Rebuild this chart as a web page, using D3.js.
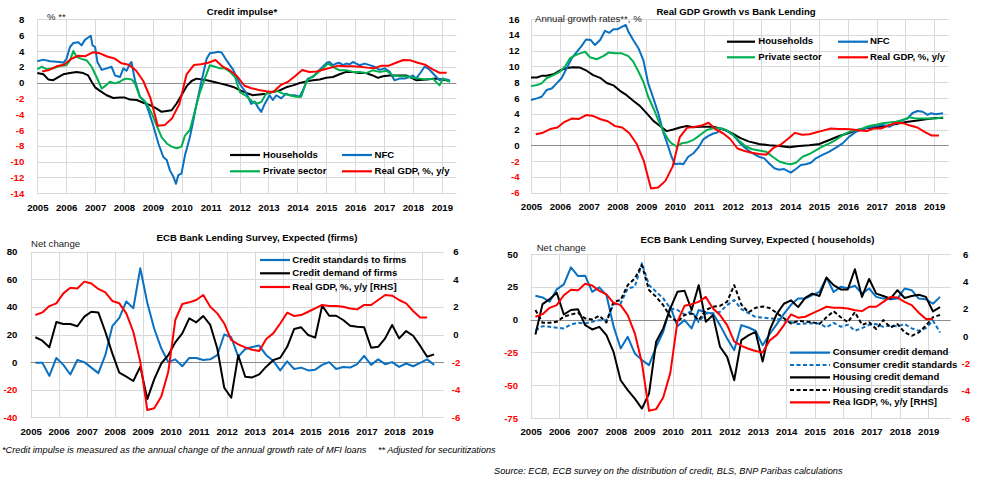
<!DOCTYPE html>
<html><head><meta charset="utf-8">
<script src="https://cdn.jsdelivr.net/npm/d3@7"></script>
<style>
body{margin:0;background:#fff}
svg{display:block}
text{font-family:"Liberation Sans",Arial,sans-serif}
</style></head>
<body><svg id="c" width="1002" height="493"></svg>
<script>
// ---------------- DATA ----------------
const years = [2005,2006,2007,2008,2009,2010,2011,2012,2013,2014,2015,2016,2017,2018,2019];

// Real GDP, % y/y (quarterly, 2005Q1..2019Q1)
const gdpQ = [1.41,1.6,2.06,2.26, 2.98,3.39,3.34,3.83, 3.7,3.3,3.05,2.43, 2.26,1.53,0.2,-1.98,
  -5.47,-5.35,-4.5,-2.7, 1.05,2.21,2.33,2.5, 2.86,2.01,1.53,0.8, -0.4,-0.72,-0.93,-1.1,
  -1.2,-0.33,0.08,0.8, 1.58,1.34,1.41,1.65, 1.89,2.14,2.06,2.06, 2.01,1.89,1.82,2.14,
  2.14,2.5,2.86,2.81, 2.5,2.26,1.7,1.24, 1.24];

// Credit impulse (%), [date, value]
const impulseHH = [[2005.00,1.2],[2005.21,1.05],[2005.38,0.4],[2005.55,0.3],[2005.73,0.7],[2005.90,1.05],[2006.13,1.2],[2006.36,1.35],[2006.59,1.2],[2006.76,0.9],[2006.88,0.1],[2007.00,-0.6],[2007.17,-1.05],[2007.40,-1.6],[2007.63,-1.95],[2007.86,-1.9],[2008.03,-1.9],[2008.21,-2.15],[2008.44,-2.2],[2008.67,-2.55],[2008.90,-2.85],[2009.13,-3.3],[2009.30,-3.7],[2009.48,-3.6],[2009.65,-3.5],[2009.82,-2.65],[2009.99,-1.6],[2010.17,-0.45],[2010.34,0.2],[2010.51,0.5],[2010.69,0.4],[2010.86,0.3],[2011.09,0.1],[2011.32,-0.1],[2011.55,-0.3],[2011.78,-0.55],[2012.01,-0.95],[2012.23,-1.3],[2012.46,-1.6],[2012.69,-1.5],[2012.92,-1.4],[2013.15,-1.2],[2013.38,-1.0],[2013.61,-0.6],[2013.85,-0.35],[2014.08,-0.05],[2014.31,0.15],[2014.54,0.3],[2014.77,0.4],[2015.00,0.6],[2015.23,0.7],[2015.46,1.05],[2015.69,1.35],[2015.92,1.35],[2016.15,1.2],[2016.38,1.2],[2016.61,0.9],[2016.79,0.6],[2016.96,0.8],[2017.19,0.9],[2017.42,0.9],[2017.77,0.9],[2018.11,0.3],[2018.46,0.4],[2018.81,0.5],[2019.15,0.3],[2019.27,0.2]];
const impulseNFC = [[2005.00,2.7],[2005.21,2.9],[2005.44,2.7],[2005.78,2.6],[2005.90,2.5],[2006.01,3.0],[2006.13,4.5],[2006.25,5.0],[2006.42,5.1],[2006.53,4.7],[2006.65,5.4],[2006.76,5.7],[2006.85,5.9],[2006.91,4.7],[2007.00,4.5],[2007.08,2.6],[2007.23,1.6],[2007.40,1.8],[2007.57,2.0],[2007.69,0.9],[2007.86,0.7],[2007.98,1.8],[2008.09,1.5],[2008.21,2.4],[2008.26,2.6],[2008.38,0.3],[2008.55,-1.8],[2008.73,-2.4],[2008.84,-3.5],[2009.01,-5.4],[2009.19,-7.7],[2009.36,-9.4],[2009.48,-9.8],[2009.59,-11.1],[2009.71,-11.9],[2009.80,-12.8],[2009.88,-11.7],[2009.99,-11.5],[2010.11,-9.2],[2010.28,-6.9],[2010.40,-4.8],[2010.51,-2.7],[2010.69,0.3],[2010.86,3.0],[2010.97,3.7],[2011.15,3.8],[2011.26,3.9],[2011.38,3.8],[2011.55,2.8],[2011.78,1.6],[2011.95,0.3],[2012.05,-0.4],[2012.23,-1.3],[2012.40,-2.7],[2012.52,-2.4],[2012.63,-3.1],[2012.75,-3.7],[2012.87,-2.7],[2013.04,-1.6],[2013.15,-2.2],[2013.27,-1.6],[2013.44,-2.0],[2013.61,-1.4],[2013.73,-1.6],[2013.90,-1.6],[2014.08,-1.8],[2014.19,-1.0],[2014.36,0.5],[2014.54,0.7],[2014.71,1.4],[2014.88,2.0],[2015.02,2.5],[2015.11,2.6],[2015.23,2.2],[2015.34,2.4],[2015.46,2.5],[2015.58,2.2],[2015.69,2.4],[2015.81,2.3],[2015.92,2.6],[2016.04,2.4],[2016.15,2.2],[2016.33,2.4],[2016.50,2.2],[2016.67,2.0],[2016.84,1.6],[2017.02,1.8],[2017.19,1.4],[2017.36,0.3],[2017.54,0.5],[2017.71,0.5],[2017.88,0.7],[2018.00,0.9],[2018.11,0.5],[2018.29,1.4],[2018.40,2.0],[2018.52,1.8],[2018.63,1.4],[2018.81,0.7],[2018.92,0.3],[2019.04,0.5],[2019.15,0.4],[2019.27,0.3]];
const impulsePriv = [[2005.00,1.7],[2005.15,2.0],[2005.32,1.7],[2005.55,1.8],[2005.78,2.1],[2006.01,2.2],[2006.13,2.8],[2006.25,4.0],[2006.36,3.25],[2006.53,3.0],[2006.71,2.8],[2006.88,2.0],[2007.05,0.7],[2007.23,-0.75],[2007.34,-0.45],[2007.51,0.1],[2007.69,-0.1],[2007.86,0.1],[2007.98,0.4],[2008.09,0.5],[2008.26,0.4],[2008.38,-0.1],[2008.55,-1.8],[2008.78,-2.65],[2008.96,-3.9],[2009.13,-5.4],[2009.30,-6.9],[2009.48,-7.7],[2009.65,-8.1],[2009.82,-8.3],[2009.99,-8.1],[2010.11,-6.7],[2010.28,-6.0],[2010.46,-3.5],[2010.63,-1.2],[2010.80,0.5],[2010.97,2.2],[2011.15,2.0],[2011.32,1.8],[2011.49,1.8],[2011.67,1.35],[2011.84,0.7],[2012.01,-1.2],[2012.23,-1.7],[2012.46,-2.45],[2012.63,-2.65],[2012.75,-2.45],[2012.92,-1.4],[2013.10,-1.2],[2013.27,-1.0],[2013.50,-1.4],[2013.73,-1.6],[2013.96,-1.8],[2014.13,-1.8],[2014.31,0.1],[2014.48,0.7],[2014.65,1.05],[2014.88,1.8],[2015.06,2.4],[2015.23,2.0],[2015.46,1.55],[2015.69,1.55],[2015.92,1.35],[2016.15,1.35],[2016.38,1.2],[2016.61,1.55],[2016.84,1.35],[2017.08,1.5],[2017.31,0.9],[2017.54,0.8],[2017.77,0.8],[2018.00,0.6],[2018.23,0.5],[2018.46,0.4],[2018.69,0.5],[2018.92,-0.35],[2019.04,0.5],[2019.15,0.3],[2019.29,0.1]];

// Bank lending growth (%), [date, value]
const lendingHH = [[2005.00,8.6],[2005.20,8.6],[2005.37,8.8],[2005.54,8.8],[2005.78,9.0],[2006.01,9.5],[2006.24,9.8],[2006.47,9.9],[2006.70,9.85],[2006.93,9.45],[2007.16,8.9],[2007.40,8.55],[2007.63,7.9],[2007.86,7.6],[2008.09,6.9],[2008.32,6.35],[2008.55,5.65],[2008.78,5.0],[2009.02,4.05],[2009.25,3.1],[2009.48,2.45],[2009.71,1.8],[2009.94,2.0],[2010.17,2.25],[2010.41,2.45],[2010.64,2.3],[2010.87,2.35],[2011.10,2.35],[2011.33,2.35],[2011.56,2.15],[2011.79,1.85],[2012.02,1.45],[2012.26,0.95],[2012.55,0.5],[2012.92,0.17],[2013.27,0],[2013.62,-0.08],[2013.97,-0.25],[2014.31,-0.08],[2014.66,0],[2015.01,0.17],[2015.36,0.68],[2015.70,1.18],[2015.93,1.44],[2016.28,1.86],[2016.63,2.15],[2016.98,2.28],[2017.32,2.45],[2017.67,2.7],[2018.02,2.95],[2018.36,3.1],[2018.71,3.3],[2019.06,3.45],[2019.31,3.45]];
const lendingNFC = [[2005.00,5.75],[2005.20,5.95],[2005.37,6.15],[2005.54,7.0],[2005.72,7.2],[2005.89,7.85],[2006.06,8.5],[2006.24,9.75],[2006.41,11.0],[2006.59,11.85],[2006.76,12.6],[2006.91,13.4],[2007.07,13.35],[2007.22,12.7],[2007.40,13.35],[2007.57,14.5],[2007.72,14.25],[2007.86,14.7],[2008.00,14.7],[2008.15,15.0],[2008.29,15.25],[2008.38,14.4],[2008.55,13.35],[2008.73,12.3],[2008.90,10.8],[2009.07,7.85],[2009.25,5.95],[2009.42,4.05],[2009.59,1.7],[2009.77,-0.2],[2009.88,-1.45],[2010.00,-2.4],[2010.17,-2.3],[2010.29,-2.4],[2010.46,-1.45],[2010.64,-1.0],[2010.81,-0.3],[2010.98,0.75],[2011.16,1.2],[2011.33,1.5],[2011.45,1.6],[2011.62,2.15],[2011.79,1.85],[2012.02,1.3],[2012.25,0.3],[2012.46,-0.4],[2012.69,-1.0],[2012.92,-1.45],[2013.10,-1.65],[2013.27,-2.3],[2013.45,-2.9],[2013.62,-3.1],[2013.79,-3.0],[2014.02,-3.45],[2014.20,-3.0],[2014.37,-2.5],[2014.54,-2.4],[2014.72,-2.2],[2014.89,-1.65],[2015.12,-1.2],[2015.36,-0.8],[2015.59,-0.3],[2015.82,0.25],[2016.05,1.1],[2016.28,1.7],[2016.51,2.05],[2016.74,2.3],[2016.98,2.45],[2017.21,2.6],[2017.44,2.35],[2017.67,2.8],[2017.90,3.2],[2018.07,3.4],[2018.25,4.1],[2018.42,4.35],[2018.60,4.25],[2018.77,3.85],[2018.88,4.05],[2019.06,3.95],[2019.31,4.05]];
const lendingPriv = [[2005.00,7.5],[2005.20,7.65],[2005.37,7.85],[2005.54,8.5],[2005.78,8.9],[2006.01,9.35],[2006.18,9.95],[2006.35,11.0],[2006.53,11.4],[2006.70,11.65],[2006.88,11.85],[2007.05,11.15],[2007.28,10.9],[2007.51,11.3],[2007.69,11.75],[2007.92,11.65],[2008.15,11.65],[2008.38,11.3],[2008.55,10.6],[2008.73,9.35],[2008.90,8.05],[2009.07,6.15],[2009.25,4.7],[2009.42,3.2],[2009.59,1.8],[2009.77,0.7],[2009.88,0.25],[2010.06,-0.15],[2010.23,0.25],[2010.41,0.35],[2010.64,0.7],[2010.87,1.3],[2011.10,1.95],[2011.33,2.15],[2011.56,2.15],[2011.79,1.95],[2012.02,1.3],[2012.25,0.5],[2012.46,-0.15],[2012.69,-0.5],[2012.92,-0.65],[2013.16,-0.8],[2013.39,-1.45],[2013.62,-2.05],[2013.85,-2.3],[2014.02,-2.4],[2014.20,-2.2],[2014.43,-1.45],[2014.66,-1.1],[2014.89,-0.65],[2015.12,-0.15],[2015.36,0.25],[2015.59,0.7],[2015.82,1.3],[2016.05,1.7],[2016.28,1.95],[2016.51,2.15],[2016.74,2.45],[2016.98,2.6],[2017.21,2.8],[2017.44,2.9],[2017.67,3.0],[2017.90,3.2],[2018.13,3.55],[2018.36,3.4],[2018.60,3.4],[2018.83,3.4],[2019.06,3.4],[2019.31,3.55]];

// ECB BLS, expected (net change, quarterly 2005Q1..2019Q2)
const firmStandards = [-0.5,-0.5,-10,3, -2,-9,1.5,0, -4,-8,5,26, 32,44,39,68, 43,24,10,0, 2,-3,3,3,
  1.5,2,5,20, 18,4,9.5,11, 12,5,1,-6, 0.5,-5,-4,-6, -5.5,-2,0,-5, -3.5,-4,-1.5,4.5,
  -2,2,-1.5,0, -3.5,-1,-3,-0.5, 2,-2];
const firmDemand = [18,15.5,10.7,29, 27.6,27.6,26,33, 36.5,36,22,6.3, -7.7,-10.6,-13.7,-3.3,
  -26.8,-12.3,-1,5, 14.3,20.8,31.7,28.8, 33.4,26.9,10,-18.6, -25.8,5,-10.6,-11.1,
  -8.9,-3.3,1.4,3.1, 11.1,24,25.2,19.6, 17.7,40.9,33.6,33.6, 30.5,26.4,25.6,25.2,
  10.4,11.1,17.2,26.9, 17.2,22.5,19.1,11.9, 3.9,5.6];
const consDemand = [18.2,16.9,13.6,23, 26.8,39.8,33.2,33.5, 21.2,24.6,18.7,-5, -22,-13.1,-25.8,-30.9,
  -34.7,-20.7,-9.3,9.8, -5,-0.4,-6.7,7.3, 5.5,4.7,-4.2,-14.4, -23.3,-4.2,-6,-8.5,
  -19.6,-11,-3.4,4.4, 11.3,16,16,18.6, 21.1,32,21,25, 24,25.8,19.8,23.7,
  17.3,16,15.5,16, 23.7,22.4,16,15.5, 12.1,17.3];
const consStandards = [-8.3,-5,-5.5,-6.2, -6.7,-3.7,-2.4,-2.9, -1.7,-0.4,-0.4,11.6, 12.3,23.8,25.1,42.9,
  26.3,21.2,16.2,8.5, 7.3,3.9,6.5,-1.7, 4.7,4.7,5.9,11, 14.9,8,5,2,
  1.5,1,0.5,-0.8, -2,-3.4,-3,-2.8, -3,-6,-2.5,-5.4, -4,-8.5,-6.5,-4,
  -3.4,-5.5,-4.5,-5.2, -3.4,-6.7,-8.5,-6.5, -0.8,-9.8];
const housDemand = [-11.3,11.8,15.6,20.5, 3.9,7.3,7.8,-4.2, -7.5,-5.5,-11.8,-24.6, -46.2,-53.8,-60.2,-67.8,
  -56.4,-16.9,-6.7,8.5, 21.2,22,7.3,26.3, -1.7,3.4,-20.7,-28.4, -46.2,-15.6,-12,-9.3,
  -32,-8,4.4,12.1, 14.7,9.5,16.5,19.8, 18,32,26.3,23, 23,38.4,17.3,31,
  19.8,18,16,22.4, 16.5,18,19,17.3, 6.2,9.5];
const housStandards = [7.3,-2.4,-2.4,-1.7, 2.2,3.9,5.1,0.9, 0.1,2.9,-2.2,13.6, 14.9,26.3,31.4,41.6,
  22.5,17.4,11,2.2, -1.7,3.4,4.7,-0.4, 7.3,9.8,10.5,13.6, 26.3,11.5,5.5,9,
  10,8.8,5,1, -3,-1,-1.5,-2, -3.4,1.8,6.4,1.8, -2,5.7,-4,-2,
  -7.2,-0.3,-6,-3.4, -9.8,-12.4,-9.8,-4.6, 1.8,3.6];

// tick values
const ticksImpulse = [8,6,4,2,0,-2,-4,-6,-8,-10,-12,-14];
const ticksLending = [16,14,12,10,8,6,4,2,0,-2,-4,-6];
const ticksFirms = [80,60,40,20,0,-20,-40];
const ticksHouse = [50,25,0,-25,-50,-75];
const ticksRHS = [6,4,2,0,-2,-4,-6];

// ---------------- DRAWING ----------------
const BLUE = "#0a70c2", RED = "#ff0000", GREEN = "#00b050", BLACK = "#000000";
const svg = d3.select("#c");
const qDate = i => 2005 + Math.floor(i / 4) + ((i % 4) * 3 + 2) / 12;
const toPairs = arr => arr.map((v, i) => [qDate(i), v]);

function panel(o) {
  const g = svg.append("g");
  const x = d3.scaleLinear().domain(o.xd).range([o.l, o.r]);
  const y = d3.scaleLinear().domain(o.yd).range([o.b, o.t]);
  // grid
  g.append("g").selectAll("line").data(o.yt).join("line")
    .attr("x1", o.l).attr("x2", o.r)
    .attr("y1", d => Math.round(y(d)) + 0.5).attr("y2", d => Math.round(y(d)) + 0.5)
    .attr("stroke", "#d9d9d9").attr("stroke-width", 1);
  g.append("g").selectAll("line").data(years).join("line")
    .attr("x1", d => Math.round(x(d)) + 0.5).attr("x2", d => Math.round(x(d)) + 0.5)
    .attr("y1", o.t).attr("y2", o.b)
    .attr("stroke", "#d9d9d9").attr("stroke-width", 1);
  g.append("line").attr("x1", o.l).attr("x2", o.r)
    .attr("y1", Math.round(y(0)) + 0.5).attr("y2", Math.round(y(0)) + 0.5)
    .attr("stroke", "#8c8c8c").attr("stroke-width", 1);
  // left axis
  const ya = g.append("g").attr("transform", `translate(${o.l},0)`)
    .call(d3.axisLeft(y).tickValues(o.yt).tickSize(0).tickPadding(o.padY).tickFormat(d => String(d)));
  ya.select(".domain").remove();
  ya.selectAll("text").attr("font-family", "Liberation Sans, Arial, sans-serif")
    .attr("font-size", 9.6).attr("font-weight", "bold")
    .attr("fill", d => d < 0 ? RED : BLACK);
  // bottom axis
  const xa = g.append("g").attr("transform", `translate(0,${o.b})`)
    .call(d3.axisBottom(x).tickValues(years).tickSize(0).tickPadding(o.padX).tickFormat(d => String(d)));
  xa.select(".domain").remove();
  xa.selectAll("text").attr("font-family", "Liberation Sans, Arial, sans-serif")
    .attr("font-size", 9.6).attr("font-weight", "bold").attr("fill", BLACK);
  let y2 = null;
  if (o.rd) {
    y2 = d3.scaleLinear().domain(o.rd).range([o.b, o.t]);
    const ra = g.append("g").attr("transform", `translate(${o.r},0)`)
      .call(d3.axisRight(y2).tickValues(ticksRHS).tickSize(0).tickPadding(0).tickFormat(d => String(d)));
    ra.select(".domain").remove();
    ra.selectAll("text").attr("x", o.rx).attr("text-anchor", "middle")
      .attr("font-family", "Liberation Sans, Arial, sans-serif")
      .attr("font-size", 9.6).attr("font-weight", "bold")
      .attr("fill", d => d < 0 ? RED : BLACK);
  }
  // title
  g.append("text").attr("x", o.tx).attr("y", o.ty).attr("text-anchor", "middle")
    .attr("dominant-baseline", "middle").attr("font-size", 9.6).attr("font-weight", "bold")
    .text(o.title);
  g.append("text").attr("x", o.ux).attr("y", o.uy).attr("dominant-baseline", "middle")
    .attr("font-size", 9.6).attr("fill", "#1a1a1a").text(o.unit);
  // series
  o.series.forEach(s => {
    const sc = s.rhs ? y2 : y;
    g.append("path").datum(s.data)
      .attr("d", d3.line().x(d => x(d[0])).y(d => sc(d[1])))
      .attr("fill", "none").attr("stroke", s.color).attr("stroke-width", 2)
      .attr("stroke-linejoin", "round")
      .attr("stroke-dasharray", s.dash || null);
  });
  // legend
  o.legend.forEach(it => {
    g.append("line").attr("x1", it.x1).attr("x2", it.x2).attr("y1", it.y).attr("y2", it.y)
      .attr("stroke", it.color).attr("stroke-width", 2.2).attr("stroke-dasharray", it.dash || null);
    g.append("text").attr("x", it.tx).attr("y", it.y).attr("dominant-baseline", "middle")
      .attr("font-size", 9.6).attr("font-weight", "bold").text(it.label);
  });
}

const gdpPairs = toPairs(gdpQ);

// Panel 1: Credit impulse
panel({
  l: 37.3, r: 456.3, t: 19.3, b: 193.3, xd: [2005, 2019.5], yd: [-14, 8], yt: ticksImpulse,
  padY: 13, padX: 10.5, title: "Credit impulse*", tx: 242, ty: 12, unit: "% **", ux: 47, uy: 17,
  series: [
    {data: impulseHH, color: BLACK},
    {data: impulseNFC, color: BLUE},
    {data: impulsePriv, color: GREEN},
    {data: gdpPairs, color: RED}
  ],
  legend: [
    {x1: 230, x2: 260, y: 155, tx: 263, label: "Households", color: BLACK},
    {x1: 342, x2: 372, y: 155, tx: 374.5, label: "NFC", color: BLUE},
    {x1: 230, x2: 260, y: 171.3, tx: 263, label: "Private sector", color: GREEN},
    {x1: 342, x2: 372, y: 171.3, tx: 374.5, label: "Real GDP, %, y/y", color: RED}
  ]
});

// Panel 2: Real GDP growth vs bank lending
panel({
  l: 531, r: 948.6, t: 19, b: 192.7, xd: [2005, 2019.5], yd: [-6, 16], yt: ticksLending,
  padY: 11.5, padX: 10.5, title: "Real GDP Growth vs Bank Lending", tx: 736, ty: 12,
  unit: "Annual growth rates**, %", ux: 535, uy: 19.5,
  series: [
    {data: lendingHH, color: BLACK},
    {data: lendingNFC, color: BLUE},
    {data: lendingPriv, color: GREEN},
    {data: gdpPairs, color: RED}
  ],
  legend: [
    {x1: 727, x2: 755, y: 41.7, tx: 758.3, label: "Households", color: BLACK},
    {x1: 838, x2: 868, y: 41.7, tx: 870, label: "NFC", color: BLUE},
    {x1: 727, x2: 755, y: 57.3, tx: 758.3, label: "Private sector", color: GREEN},
    {x1: 838, x2: 868, y: 57.3, tx: 870, label: "Real GDP, %, y/y", color: RED}
  ]
});

// Panel 3: BLS firms
panel({
  l: 30.7, r: 444, t: 251.7, b: 417.3, xd: [2005, 2019.77], yd: [-40, 80], yt: ticksFirms,
  rd: [-6, 6], rx: 12,
  padY: 13.4, padX: 10.8, title: "ECB Bank Lending Survey, Expected (firms)", tx: 257, ty: 238.3,
  unit: "Net change", ux: 31, uy: 244,
  series: [
    {data: toPairs(firmStandards), color: BLUE},
    {data: toPairs(firmDemand), color: BLACK},
    {data: gdpPairs, color: RED, rhs: true}
  ],
  legend: [
    {x1: 260, x2: 290, y: 260, tx: 292.3, label: "Credit standards to firms", color: BLUE},
    {x1: 260, x2: 290, y: 273.3, tx: 292.3, label: "Credit demand of firms", color: BLACK},
    {x1: 260, x2: 290, y: 287, tx: 292.3, label: "Real GDP, %, y/y [RHS]", color: RED}
  ]
});

// Panel 4: BLS households
panel({
  l: 530.7, r: 950.7, t: 254, b: 418, xd: [2005, 2019.79], yd: [-75, 50], yt: ticksHouse,
  rd: [-6, 6], rx: 15,
  padY: 12.7, padX: 10.2, title: "ECB Bank Lending Survey, Expected ( households)", tx: 757.5, ty: 240.7,
  unit: "Net change", ux: 536.7, uy: 248.3,
  series: [
    {data: toPairs(consDemand), color: BLUE},
    {data: toPairs(consStandards), color: BLUE, dash: "4,2.5"},
    {data: toPairs(housDemand), color: BLACK},
    {data: toPairs(housStandards), color: BLACK, dash: "4,2.5"},
    {data: gdpPairs, color: RED, rhs: true}
  ],
  legend: [
    {x1: 790, x2: 830, y: 352.7, tx: 832.7, label: "Consumer credit demand", color: BLUE},
    {x1: 790, x2: 830, y: 365, tx: 832.7, label: "Consumer credit standards", color: BLUE, dash: "4,2.5"},
    {x1: 790, x2: 830, y: 377.3, tx: 832.7, label: "Housing credit demand", color: BLACK},
    {x1: 790, x2: 830, y: 390, tx: 832.7, label: "Housing credit standards", color: BLACK, dash: "4,2.5"},
    {x1: 790, x2: 830, y: 402.3, tx: 832.7, label: "Rea lGDP, %, y/y [RHS]", color: RED}
  ]
});

// Footnotes (condensed to match the narrow italic of the original)
const notes = [
  {x: 2, y: 451, w: 364.5, t: "*Credit impulse is measured as the annual change of the annual growth rate of MFI loans"},
  {x: 378, y: 451, w: 117.5, t: "** Adjusted for securitizations"},
  {x: 494, y: 471.7, w: 348.5, t: "Source: ECB, ECB survey on the distribution of credit, BLS, BNP Paribas calculations"}
];
notes.forEach(n => {
  svg.append("text").attr("x", n.x).attr("y", n.y).attr("dominant-baseline", "middle")
    .attr("font-style", "italic").attr("font-size", 9.4)
    .attr("textLength", n.w).attr("lengthAdjust", "spacingAndGlyphs")
    .text(n.t);
});
</script>
</body></html>
